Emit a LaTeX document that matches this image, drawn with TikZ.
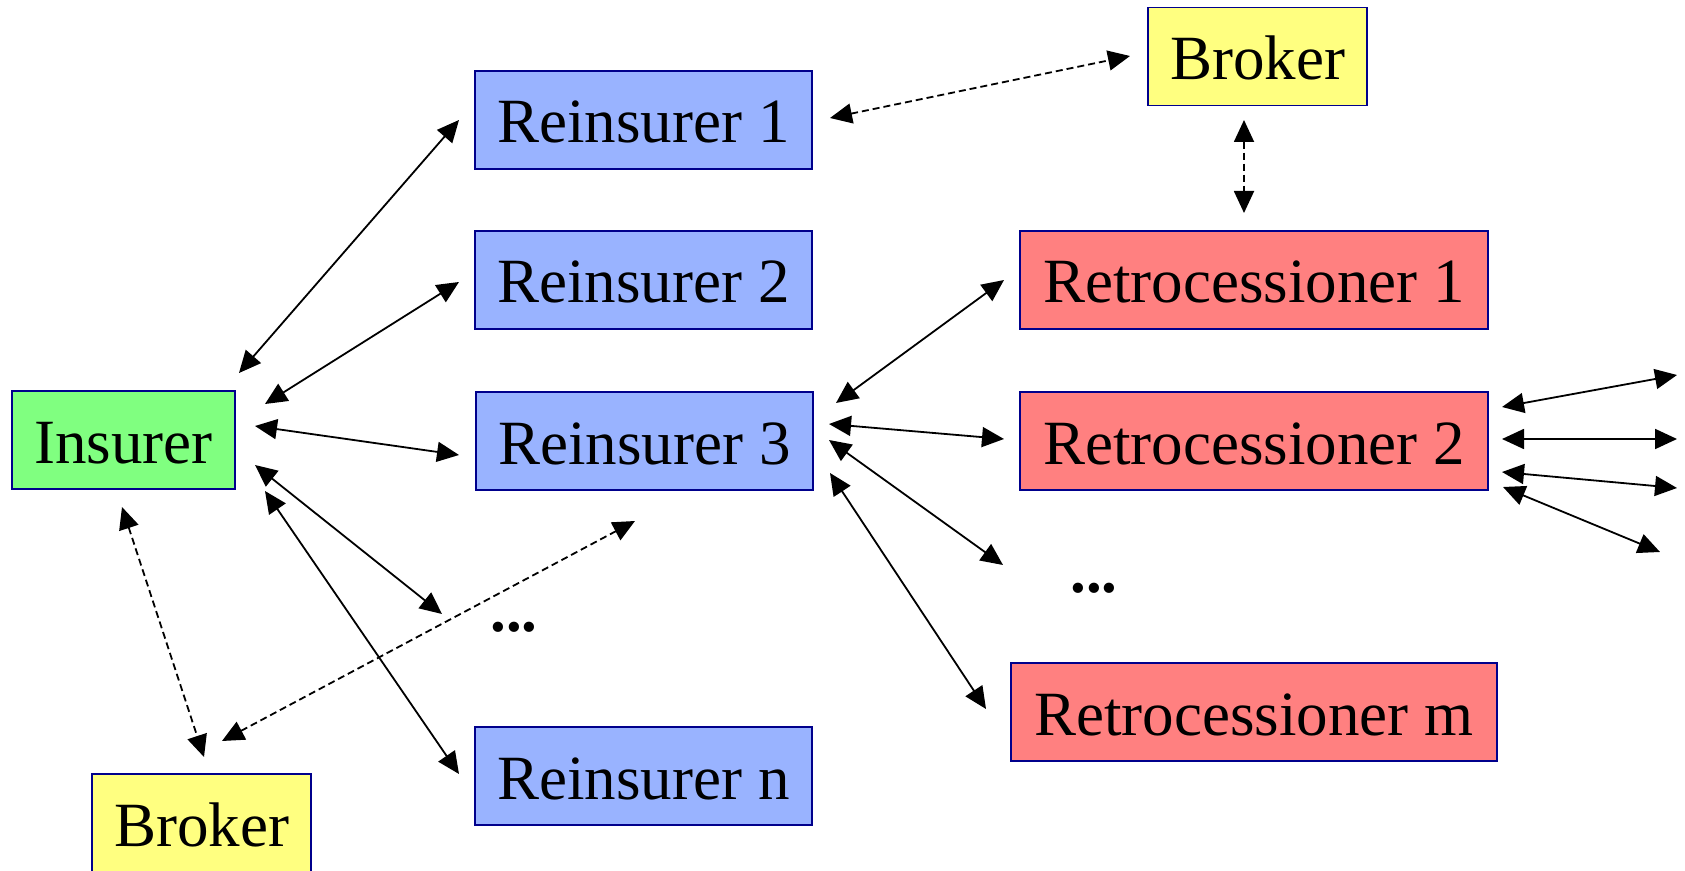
\documentclass[tikz,border=0pt]{standalone}
\usepackage{fontspec}
\setmainfont{Liberation Serif}
\usetikzlibrary{arrows.meta}
\definecolor{ins}{RGB}{128,255,128}
\definecolor{rei}{RGB}{153,179,255}
\definecolor{ret}{RGB}{255,128,128}
\definecolor{brk}{RGB}{255,255,128}
\definecolor{edge}{RGB}{0,0,140}
\tikzset{
  box/.style={draw=edge, line width=0.8pt, minimum height=49pt, inner sep=0pt,
    text height=23pt, text depth=0pt,
    font=\fontsize{31.5}{36}\selectfont},
  link/.style={line width=0.9pt, {Triangle[length=11pt,width=10pt]}-{Triangle[length=11pt,width=10pt]}},
  dlink/.style={link, dash pattern=on 3.5pt off 2pt},
  dots/.style={font=\fontsize{31.5}{36}\selectfont\bfseries}
}
\begin{document}
\begin{tikzpicture}[x=0.5pt,y=-0.5pt]
\useasboundingbox (0,0) rectangle (1685,871);
% nodes
\node[box, fill=ins, minimum width=111.5pt] (ins) at (123.5,440) {Insurer};
\node[box, fill=brk, minimum width=109.5pt] (brkb) at (201.5,823) {Broker};
\node[box, fill=brk, minimum width=109.5pt] (brkt) at (1257.5,56.5) {Broker};
\node[box, fill=rei, minimum width=168.5pt] (r1) at (643.5,120) {Reinsurer 1};
\node[box, fill=rei, minimum width=168.5pt] (r2) at (643.5,280) {Reinsurer 2};
\node[box, fill=rei, minimum width=168.5pt] (r3) at (644.5,441) {Reinsurer 3};
\node[box, fill=rei, minimum width=168.5pt] (rn) at (643.5,776) {Reinsurer n};
\node[box, fill=ret, minimum width=234pt] (t1) at (1254,280) {Retrocessioner 1};
\node[box, fill=ret, minimum width=234pt] (t2) at (1254,441) {Retrocessioner 2};
\node[box, fill=ret, minimum width=243pt] (tm) at (1254,712) {Retrocessioner m};
\node[dots] (d1) at (514,627) {...};
\node[dots] (d2) at (1094,588) {...};
% endpoints
\coordinate (a1s) at (239,373); \coordinate (a1e) at (459,120);
\coordinate (a2s) at (265,404); \coordinate (a2e) at (459,282);
\coordinate (a3s) at (255,426); \coordinate (a3e) at (459,455);
\coordinate (a4s) at (255,465); \coordinate (a4e) at (442,614);
\coordinate (a5s) at (265,491); \coordinate (a5e) at (459,774);
\coordinate (b1s) at (122,507); \coordinate (b1e) at (204,757);
\coordinate (b2s) at (222,741); \coordinate (b2e) at (635,521);
\coordinate (c1s) at (830,118); \coordinate (c1e) at (1130,56);
\coordinate (c2s) at (1244,120); \coordinate (c2e) at (1244,213);
\coordinate (e1s) at (836,403); \coordinate (e1e) at (1004,280);
\coordinate (e2s) at (829,424); \coordinate (e2e) at (1004,439);
\coordinate (e3s) at (829,440); \coordinate (e3e) at (1003,565);
\coordinate (e4s) at (830,473); \coordinate (e4e) at (986,709);
\coordinate (f1s) at (1502,407); \coordinate (f1e) at (1677,375);
\coordinate (f2s) at (1502,439); \coordinate (f2e) at (1677,439);
\coordinate (f3s) at (1502,472); \coordinate (f3e) at (1677,488);
\coordinate (f4s) at (1503,487); \coordinate (f4e) at (1660,552);
% connectors
\draw[link] (a1s) -- (a1e);
\draw[link] (a2s) -- (a2e);
\draw[link] (a3s) -- (a3e);
\draw[link] (a4s) -- (a4e);
\draw[link] (a5s) -- (a5e);
\draw[dlink] (b1s) -- (b1e);
\draw[dlink] (b2s) -- (b2e);
\draw[dlink] (c1s) -- (c1e);
\draw[dlink] (c2s) -- (c2e);
\draw[link] (e1s) -- (e1e);
\draw[link] (e2s) -- (e2e);
\draw[link] (e3s) -- (e3e);
\draw[link] (e4s) -- (e4e);
\draw[link] (f1s) -- (f1e);
\draw[link] (f2s) -- (f2e);
\draw[link] (f3s) -- (f3e);
\draw[link] (f4s) -- (f4e);
\end{tikzpicture}
\end{document}
